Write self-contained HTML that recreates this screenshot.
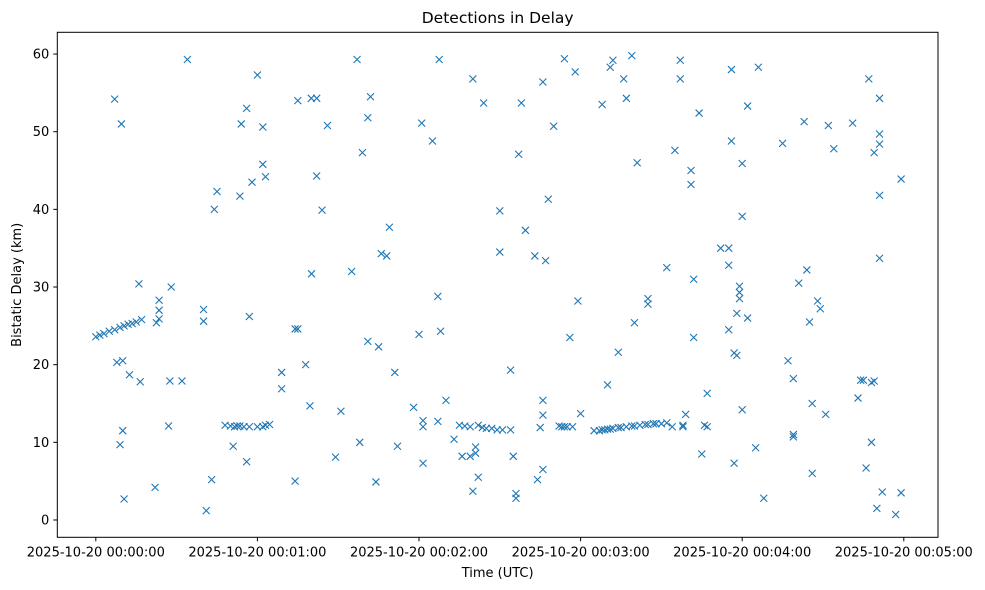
<!DOCTYPE html>
<html><head><meta charset="utf-8"><style>
body{margin:0;background:#fff;}
svg{display:block;font-family:"DejaVu Sans","Liberation Sans",sans-serif;}
</style></head><body>
<svg id="chart" width="985" height="590"></svg>
<script>
const secs=[0,1.5,3,5,7,9,10.5,12,13.5,15,17,7,9.5,7.8,10,9,10,10.5,12.5,16,16.5,22,23.5,23.5,23.5,22.5,27,27.5,28,32,34,40,40,41,43,44,45,48,50,51.5,52.5,53.5,55,57,60,62,63,64.5,51,53.5,54,56,56,57,58,60,62,62,63,74,74,75,75,69,69,77.9,79.5,80,80.1,82,82,84,86,89,91,95,97,98,99,101,101,102,104,105,106,108,109,111,112,118,120,121.5,121.5,121.5,121,125,127,127,128,127.5,130,133,135,137,139,136,139,140,141,141,140,142,144,142,143.5,145,147,149,151,154,150,150,154,155,156,156,157,158,159.5,163,164,165,166,166,166,166,167,168,170,172,173,174,175,177,174,176,178,179,180,185,187,188,189,190,191,192,194,195,197,199,200,202,204,205,207,208,210,212,188,190,191,192,194,196,197,199,200,201,205,205,214,218,212,215,217,217,219,218,221,221,222,222,224,225,226,227,227,232,235,235,235,236,236,237,238,237,238,239,239,239,240,240,240,242,242,245,246,248,255,257,259,259,259,261,263,264,265,266,266,268,269,271,272,274,281,283,284,285,286,287,288,289,288,289,290,291,291,291,291,291,292,297,299,299];
const kms=[23.6,23.8,24.0,24.3,24.5,24.8,25.0,25.2,25.3,25.5,25.8,54.2,51,20.3,20.5,9.7,11.5,2.7,18.7,30.4,17.8,4.2,28.3,27,25.9,25.4,12.1,17.9,30,17.9,59.3,27.1,25.6,1.2,5.2,40,42.3,12.2,12.1,12,12.1,12.1,12,12,12,12,12.2,12.3,9.5,41.7,51,53,7.5,26.2,43.5,57.3,45.8,50.6,44.2,5,24.6,24.6,54,19,16.9,20,14.7,54.3,31.7,54.3,44.3,39.9,50.8,8.1,14,32,59.3,10,47.3,51.8,23,54.5,4.9,22.3,34.3,34,37.7,19,9.5,14.5,23.9,7.3,12.8,12,51.1,48.8,12.7,28.8,24.3,59.3,15.4,10.4,12.2,12.1,12,8.2,8.2,3.7,8.6,9.4,56.8,5.5,53.7,12.2,11.9,11.8,11.8,11.6,11.6,11.6,34.5,39.8,19.3,8.2,3.4,2.8,47.1,53.7,37.3,34,5.2,11.9,56.4,13.5,15.4,6.5,33.4,41.3,50.7,12.1,12,12,12,12,59.4,23.5,57.7,28.2,13.7,11.5,11.5,11.6,11.6,11.7,11.7,11.8,11.9,11.9,12,12.1,12.1,12.2,12.3,12.3,12.4,12.4,12.4,12.5,53.5,17.4,58.3,59.2,21.6,56.8,54.3,59.8,25.4,46,28.5,27.8,12,12,32.5,47.6,59.2,56.8,13.6,12.2,45,43.2,31,23.5,52.4,8.5,12.2,12,16.3,35,35,32.8,24.5,48.8,58,21.5,21.2,7.3,26.6,28.5,29.3,30.1,39.1,45.9,14.2,26,53.3,9.3,58.3,2.8,48.5,20.5,18.2,11,10.7,30.5,51.3,32.2,25.5,15,6,28.2,27.2,13.6,50.8,47.8,51.1,15.7,18,18,6.7,56.8,17.7,17.9,10,47.3,1.5,49.7,48.4,54.3,41.8,33.7,3.6,0.7,3.5,43.9];
const xTickSecs=[0,60,120,180,240,300];
const xTickLabels=["2025-10-20 00:00:00","2025-10-20 00:01:00","2025-10-20 00:02:00","2025-10-20 00:03:00","2025-10-20 00:04:00","2025-10-20 00:05:00"];
const yTicks=[0,10,20,30,40,50,60];

const L=57.3,R=938,T=32.3,B=537.3;
const xMin=-14.3,xMax=312.7,yMin=-2.23,yMax=62.8;
const X=v=>L+(v-xMin)/(xMax-xMin)*(R-L);
const Y=v=>B-(v-yMin)/(yMax-yMin)*(B-T);
const svg=document.getElementById('chart');
const NS='http://www.w3.org/2000/svg';
function mk(tag,attrs,parent){const e=document.createElementNS(NS,tag);for(const k in attrs)e.setAttribute(k,attrs[k]);(parent||svg).appendChild(e);return e;}

const pts=mk('g',{});


for(let i=0;i<secs.length;i++){
  const cx=X(secs[i]),cy=Y(kms[i]),s=3.5;
  const p=mk('path',{d:`M${cx-s},${cy-s}L${cx+s},${cy+s}M${cx-s},${cy+s}L${cx+s},${cy-s}`,stroke:'#1f77b4','stroke-width':1.1,fill:'none'},pts);
  
  
}
const frame=mk('rect',{x:L,y:T,width:R-L,height:B-T,fill:'none',stroke:'#000','stroke-width':1});


xTickSecs.forEach((s,i)=>{
  const x=X(s);
  mk('line',{x1:x,x2:x,y1:B,y2:B+4,stroke:'#000'});
  const t=mk('text',{x:x,y:B+19,'text-anchor':'middle','font-size':13,fill:'#000'});
  t.textContent=xTickLabels[i];
  
  
});
yTicks.forEach(v=>{
  const y=Y(v);
  mk('line',{x1:L-4,x2:L,y1:y,y2:y,stroke:'#000'});
  const t=mk('text',{x:L-8,y:y+4.5,'text-anchor':'end','font-size':13,fill:'#000'});
  t.textContent=v;
  
  
});
const title=mk('text',{x:(L+R)/2,y:23,'text-anchor':'middle','font-size':15.5,fill:'#000'});
title.textContent='Detections in Delay';


const xl=mk('text',{x:(L+R)/2,y:577,'text-anchor':'middle','font-size':13,fill:'#000'});
xl.textContent='Time (UTC)';


const yl=mk('text',{x:21,y:(T+B)/2,'text-anchor':'middle','font-size':13,fill:'#000',transform:`rotate(-90 21 ${(T+B)/2})`});
yl.textContent='Bistatic Delay (km)';


</script>
</body></html>
